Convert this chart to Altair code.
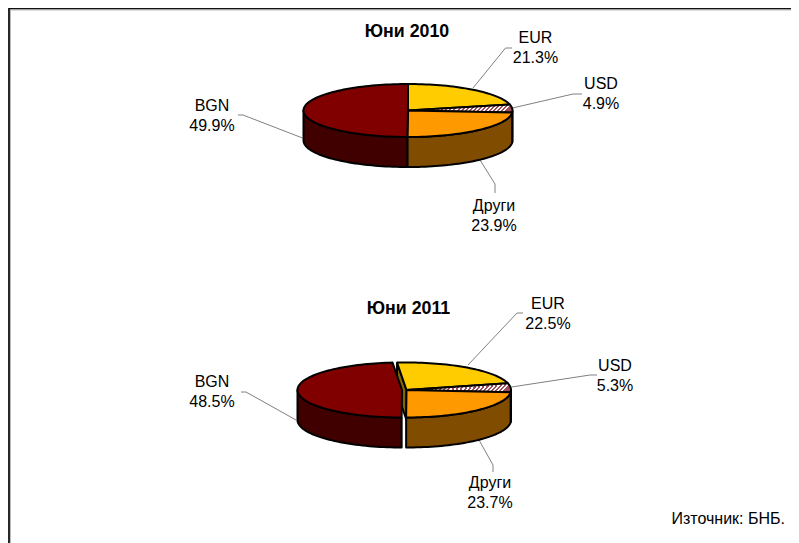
import math
import altair as alt
import pandas as pd

# ---- values ----
categories = ["EUR", "USD", "Други", "BGN"]
shares_2010 = [21.3, 4.9, 23.9, 49.9]
shares_2011 = [22.5, 5.3, 23.7, 48.5]
titles = ["Юни 2010", "Юни 2011"]
source_note = "Източник: БНБ."

# ---- styles ----
TOP = {"EUR": "#FFCC00", "USD": "#FFFFFF", "Други": "#FF9900", "BGN": "#800000"}
WALL = {"EUR": "#806600", "USD": "#804C00", "Други": "#804C00", "BGN": "#400000"}
LEADER = "#808080"
FONT = "Liberation Sans"

# ---- layout: canvas position scale is the reference's pixel grid ----
X_DOM = [8, 791]
Y_DOM = [8, 543]
x_enc = alt.X("x:Q", scale=alt.Scale(domain=X_DOM, nice=False, zero=False), axis=None)
y_enc = alt.Y("y:Q", scale=alt.Scale(domain=Y_DOM, reverse=True, nice=False, zero=False), axis=None)

PIES = [
    dict(shares=shares_2010, start=0.0, cx=408.0, cy=110.5, rx=104.5, ry=26.5, depth=30,
         offset={"BGN": 0.0}, title_xy=(407, 31.5),
         labels={"EUR": (535.5, 37), "USD": (601, 83), "Други": (494, 205), "BGN": (212, 105)},
         leaders={"EUR": [(473, 88), (505.5, 48), (512, 48)],
                  "USD": [(512.5, 108), (573, 94), (582, 94)],
                  "Други": [(480, 160), (495, 184), (495, 193)],
                  "BGN": [(302.5, 138), (243, 115), (238, 115)]}),
    dict(shares=shares_2011, start=-5.2, cx=406.5, cy=390.0, rx=104.5, ry=27.5, depth=30,
         offset={"BGN": -4.5}, title_xy=(408.5, 308.5),
         labels={"EUR": (548, 303), "USD": (615, 365), "Други": (490, 482), "BGN": (212, 381)},
         leaders={"EUR": [(468, 365), (517, 313), (523, 313)],
                  "USD": [(511.5, 387), (590, 375), (597, 375)],
                  "Други": [(479, 440), (493, 465), (493, 472)],
                  "BGN": [(296, 420), (246, 392), (241, 392)]}),
]


def hatch():
    stops = []
    n = 26
    for k in range(n):
        a, b, c = k / n, (k + 0.5) / n, (k + 1) / n
        stops += [
            alt.GradientStop(offset=a, color="#FFFFFF"),
            alt.GradientStop(offset=b, color="#FFFFFF"),
            alt.GradientStop(offset=b, color="#A0505A"),
            alt.GradientStop(offset=c, color="#A0505A"),
        ]
    return alt.LinearGradient(gradient="linear", x1=0, y1=0, x2=1, y2=0.077, stops=stops)


def ell(p, theta, dx=0.0, dy=0.0):
    t = math.radians(theta)
    return (p["cx"] + dx + p["rx"] * math.sin(t), p["cy"] + dy - p["ry"] * math.cos(t))


def arc(a, b):
    n = max(2, int(abs(b - a) / 2) + 2)
    return [a + (b - a) * i / (n - 1) for i in range(n)]


def poly(points, fill, width=2):
    df = pd.DataFrame({"x": [q[0] for q in points], "y": [q[1] for q in points], "i": range(len(points))})
    return alt.Chart(df).mark_line(fill=fill, stroke="black", strokeWidth=width, strokeJoin="round").encode(
        x=x_enc, y=y_enc, order=alt.Order("i:Q")
    )


walls, tops, polys_back = [], [], []
leader_layers, text_rows = [], []
for p in PIES:
    cum = p["start"]
    angles = {}
    for cat, s in zip(categories, p["shares"]):
        angles[cat] = (cum, cum + s * 3.6)
        cum += s * 3.6
    for cat in categories:
        a, b = angles[cat]
        dx = p["offset"].get(cat, 0.0)
        # top face
        pts = [(p["cx"] + dx, p["cy"])] + [ell(p, t, dx) for t in arc(a, b)] + [(p["cx"] + dx, p["cy"])]
        tops.append((pts, hatch() if cat == "USD" else TOP[cat]))
        # outer wall: the part of the rim that faces the viewer
        lo, hi = max(a, 90.0), min(b, 270.0)
        if hi > lo:
            front = [ell(p, t, dx) for t in arc(lo, hi)]
            back = [ell(p, t, dx, p["depth"]) for t in arc(hi, lo)]
            walls.append((front + back + front[:1], WALL[cat]))
    # the cut face that shows where the BGN slice is pulled away
    if any(p["offset"].values()):
        a = angles["EUR"][0]
        s = ell(p, a)
        c = (p["cx"], p["cy"])
        d = p["depth"]
        polys_back.append(([s, c, (c[0], c[1] + d), (s[0], s[1] + d), s], WALL["EUR"]))
    for cat, s in zip(categories, p["shares"]):
        lx, ly = p["labels"][cat]
        text_rows.append({"x": lx, "y": ly + 0.5, "t": cat})
        text_rows.append({"x": lx, "y": ly + 20.5, "t": f"{s:.1f}%"})
        pts = p["leaders"][cat]
        leader_layers.append(
            alt.Chart(pd.DataFrame({"x": [q[0] for q in pts], "y": [q[1] for q in pts], "i": range(len(pts))}))
            .mark_line(stroke=LEADER, strokeWidth=1)
            .encode(x=x_enc, y=y_enc, order=alt.Order("i:Q"))
        )

layers = []
# frame at the page's top-left
frame = pd.DataFrame({"x": [9, 9, 791], "y": [543, 8.6, 8.6], "i": [0, 1, 2]})
layers.append(alt.Chart(frame).mark_line(stroke="#111111", strokeWidth=1.8, strokeJoin="miter").encode(
    x=x_enc, y=y_enc, order=alt.Order("i:Q")))
frame2 = pd.DataFrame({"x": [10.5, 10.5, 791], "y": [543, 10, 10], "i": [0, 1, 2]})
layers.append(alt.Chart(frame2).mark_line(stroke="#BBBBBB", strokeWidth=1).encode(
    x=x_enc, y=y_enc, order=alt.Order("i:Q")))
layers += leader_layers
layers += [poly(q, f) for q, f in polys_back]
layers += [poly(q, f) for q, f in walls]
layers += [poly(q, f) for q, f in tops]

layers.append(
    alt.Chart(pd.DataFrame(text_rows)).mark_text(font=FONT, fontSize=16, color="black", align="center", baseline="middle")
    .encode(x=x_enc, y=y_enc, text="t:N")
)
title_df = pd.DataFrame({"x": [p["title_xy"][0] for p in PIES], "y": [p["title_xy"][1] for p in PIES], "t": titles})
layers.append(
    alt.Chart(title_df).mark_text(font=FONT, fontSize=17.8, fontWeight="bold", color="black", align="center", baseline="middle")
    .encode(x=x_enc, y=y_enc, text="t:N")
)
note_df = pd.DataFrame({"x": [785], "y": [518.5], "t": [source_note]})
layers.append(
    alt.Chart(note_df).mark_text(font=FONT, fontSize=16, color="black", align="right", baseline="middle")
    .encode(x=x_enc, y=y_enc, text="t:N")
)

chart = (
    alt.layer(*layers)
    .properties(width=783, height=535, padding=0, autosize=alt.AutoSizeParams(type="none"), background="white")
    .configure_view(stroke=None)
)
chart.save("out.html", embed_options={"renderer": "svg", "actions": False})
